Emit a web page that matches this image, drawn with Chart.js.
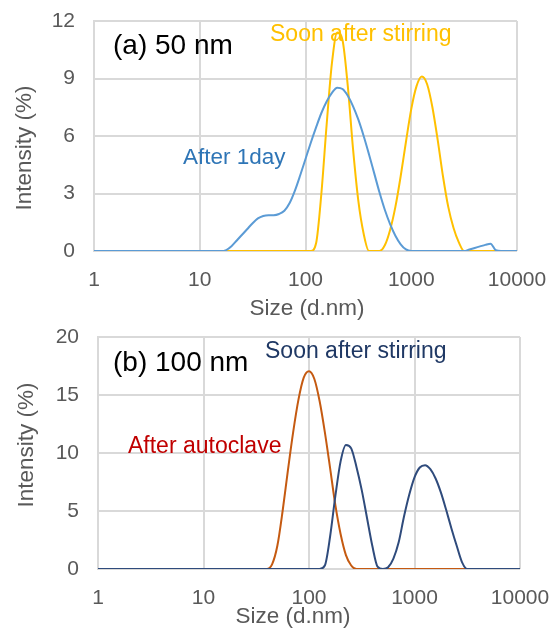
<!DOCTYPE html>
<html>
<head>
<meta charset="utf-8">
<script src="https://cdn.jsdelivr.net/npm/chart.js@4.4.1/dist/chart.umd.min.js"></script>
<style>
  html, body { margin: 0; padding: 0; background: #fff; }
  #wrap { position: relative; width: 556px; height: 633px; overflow: hidden; }
  canvas { display: block; position: absolute; left: 0; }
</style>
</head>
<body>
<div id="wrap">
  <canvas id="chartB" width="556" height="317" style="top:316px"></canvas>
  <canvas id="chartA" width="556" height="326" style="top:0"></canvas>
</div>
<script>
// ---- data ----
const xTicks = [1, 10, 100, 1000, 10000];

// (a) 50 nm
const sizesA = [1, 10,
  15.85, 17.78, 19.95, 22.39, 25.12, 28.18, 31.62, 35.48, 39.81, 44.67,
  50.12, 56.23, 63.10, 70.79, 79.43, 89.13, 100, 112.2, 125.9, 141.3,
  158.5, 177.8, 199.5, 223.9, 251.2, 281.8, 316.2, 354.8, 398.1, 446.7,
  501.2, 562.3, 631.0, 707.9, 794.3, 891.3, 1000, 1122, 1259, 1413,
  1585, 1778, 1995, 2239, 2512, 2818, 3162, 3548, 3981, 4467,
  5012, 5623, 6310, 7079, 7943, 8913, 10000];
const after1day = [0, 0,
  0, 0.05, 0.25, 0.55, 0.85, 1.15, 1.45, 1.7, 1.83, 1.87,
  1.87, 1.93, 2.1, 2.5, 3.15, 3.95, 4.8, 5.65, 6.45, 7.2,
  7.8, 8.25, 8.52, 8.45, 8.1, 7.55, 6.85, 6.0, 5.05, 4.05,
  3.05, 2.15, 1.4, 0.8, 0.35, 0.08, 0, 0, 0, 0,
  0, 0, 0, 0, 0, 0, 0, 0.08, 0.16, 0.24,
  0.32, 0.38, 0.04, 0, 0, 0, 0];
const soonA = [0, 0,
  0, 0, 0, 0, 0, 0, 0, 0, 0, 0,
  0, 0, 0, 0, 0, 0, 0, 0, 0.4, 3.0,
  6.6, 9.8, 11.4, 11.0, 8.6, 5.3, 2.6, 0.9, 0, 0,
  0, 0.3, 1.1, 2.3, 3.9, 5.7, 7.4, 8.6, 9.1, 8.7,
  7.5, 5.8, 3.9, 2.3, 1.2, 0.45, 0, 0, 0, 0,
  0, 0, 0, 0, 0, 0, 0];
const yTicksA = [0, 3, 6, 9, 12];

// (b) 100 nm
const sizesB = [1, 10,
  39.81, 44.67, 50.12, 56.23, 63.10, 70.79, 79.43, 89.13, 100, 112.2,
  125.9, 141.3, 158.5, 177.8, 199.5, 223.9, 251.2, 281.8, 316.2, 354.8,
  398.1, 446.7, 501.2, 562.3, 631.0, 707.9, 794.3, 891.3, 1000, 1122,
  1259, 1413, 1585, 1778, 1995, 2239, 2512, 2818, 3162, 10000];
const afterAutoclave = [0, 0,
  0, 0.4, 2.0, 5.0, 8.5, 11.8, 14.6, 16.5, 17.05, 16.4,
  14.5, 11.8, 8.7, 5.5, 3.0, 1.2, 0.3, 0, 0, 0,
  0, 0, 0, 0, 0, 0, 0, 0, 0, 0,
  0, 0, 0, 0, 0, 0, 0, 0, 0, 0];
const soonB = [0, 0,
  0, 0, 0, 0, 0, 0, 0, 0, 0, 0,
  0, 0.3, 2.8, 6.3, 9.3, 10.7, 10.4, 8.8, 6.8, 4.4,
  2.0, 0.2, 0, 0.15, 0.9, 2.3, 4.5, 6.4, 7.9, 8.75,
  8.95, 8.6, 7.8, 6.6, 5.1, 3.5, 2.0, 0.6, 0, 0];
const yTicksB = [0, 5, 10, 15, 20];

// ---- helpers ----
const FONT = '"Liberation Sans", Arial, sans-serif';
const GRID = '#D9D9D9';
const TICK = '#595959';

function points(xs, ys) {
  return xs.map((x, i) => ({ x: x, y: ys[i] }));
}

function series(label, xs, ys, color) {
  return {
    label: label,
    data: points(xs, ys),
    borderColor: color,
    borderWidth: 2,
    pointRadius: 0,
    fill: false,
    cubicInterpolationMode: 'monotone'
  };
}

// texts written straight onto the canvas
const textPlugin = {
  id: 'texts',
  afterDraw(chart, args, opts) {
    const ctx = chart.ctx;
    opts.items.forEach(t => {
      ctx.save();
      ctx.font = t.size + 'px ' + FONT;
      ctx.fillStyle = t.color;
      ctx.textBaseline = 'middle';
      ctx.textAlign = t.align || 'left';
      ctx.translate(t.x, t.y);
      if (t.rotate) ctx.rotate(t.rotate);
      ctx.fillText(t.text, 0, 0);
      ctx.restore();
    });
  }
};

function makeChart(id, datasets, yTicks, yWidth, xHeight, padRight, padBottom, texts) {
  const ctx = document.getElementById(id).getContext('2d');
  return new Chart(ctx, {
    type: 'line',
    data: { datasets: datasets },
    plugins: [textPlugin],
    options: {
      responsive: false,
      animation: false,
      layout: { padding: { left: 0, right: padRight, top: 21, bottom: padBottom } },
      scales: {
        x: {
          type: 'logarithmic',
          min: xTicks[0],
          max: xTicks[xTicks.length - 1],
          afterBuildTicks: (scale) => { scale.ticks = xTicks.map(v => ({ value: v })); },
          afterFit: (scale) => {
            scale.height = xHeight;
            scale.paddingLeft = 0; scale.paddingRight = 0;
          },
          grid: { color: GRID, lineWidth: 2, drawTicks: false },
          border: { display: false },
          ticks: {
            color: TICK,
            font: { family: FONT, size: 21 },
            padding: 17,
            maxRotation: 0,
            autoSkip: false,
            callback: (v) => String(v)
          }
        },
        y: {
          min: yTicks[0],
          max: yTicks[yTicks.length - 1],
          afterBuildTicks: (scale) => { scale.ticks = yTicks.map(v => ({ value: v })); },
          afterFit: (scale) => {
            scale.width = yWidth;
            scale.paddingTop = 0; scale.paddingBottom = 0;
          },
          grid: { color: GRID, lineWidth: 2, drawTicks: false },
          border: { display: true, color: GRID, width: 2 },
          ticks: {
            color: TICK,
            font: { family: FONT, size: 21 },
            padding: 19
          }
        }
      },
      plugins: {
        legend: { display: false },
        tooltip: { enabled: false },
        texts: { items: texts }
      }
    }
  });
}

// top panel canvas is 326 tall; its plot area still ends at y = 251
makeChart('chartA', [
  series('After 1day', sizesA, after1day, '#5B9BD5'),
  series('Soon after stirring', sizesA, soonA, '#FFC000')
], yTicksA, 94, 65, 39, 10, [
  { text: '(a) 50 nm', x: 113, y: 46, size: 28, color: '#000000' },
  { text: 'Soon after stirring', x: 270, y: 35, size: 23, color: '#FFC000' },
  { text: 'After 1day', x: 183, y: 158, size: 22.5, color: '#2E75B6' },
  { text: 'Intensity (%)', x: 25, y: 148, size: 22.5, color: TICK, align: 'center', rotate: -Math.PI / 2 },
  { text: 'Size (d.nm)', x: 307, y: 309, size: 22.5, color: TICK, align: 'center' }
]);

makeChart('chartB', [
  series('Soon after stirring', sizesB, soonB, '#2F4B7C'),
  series('After autoclave', sizesB, afterAutoclave, '#C55A11')
], yTicksB, 98, 64, 36, 0, [
  { text: '(b) 100 nm', x: 113, y: 47, size: 28, color: '#000000' },
  { text: 'Soon after stirring', x: 265, y: 36, size: 23, color: '#1F3864' },
  { text: 'After autoclave', x: 128, y: 131, size: 23, color: '#C00000' },
  { text: 'Intensity (%)', x: 27, y: 129, size: 22.5, color: TICK, align: 'center', rotate: -Math.PI / 2 },
  { text: 'Size (d.nm)', x: 293, y: 301, size: 22.5, color: TICK, align: 'center' }
]);
</script>
</body>
</html>
